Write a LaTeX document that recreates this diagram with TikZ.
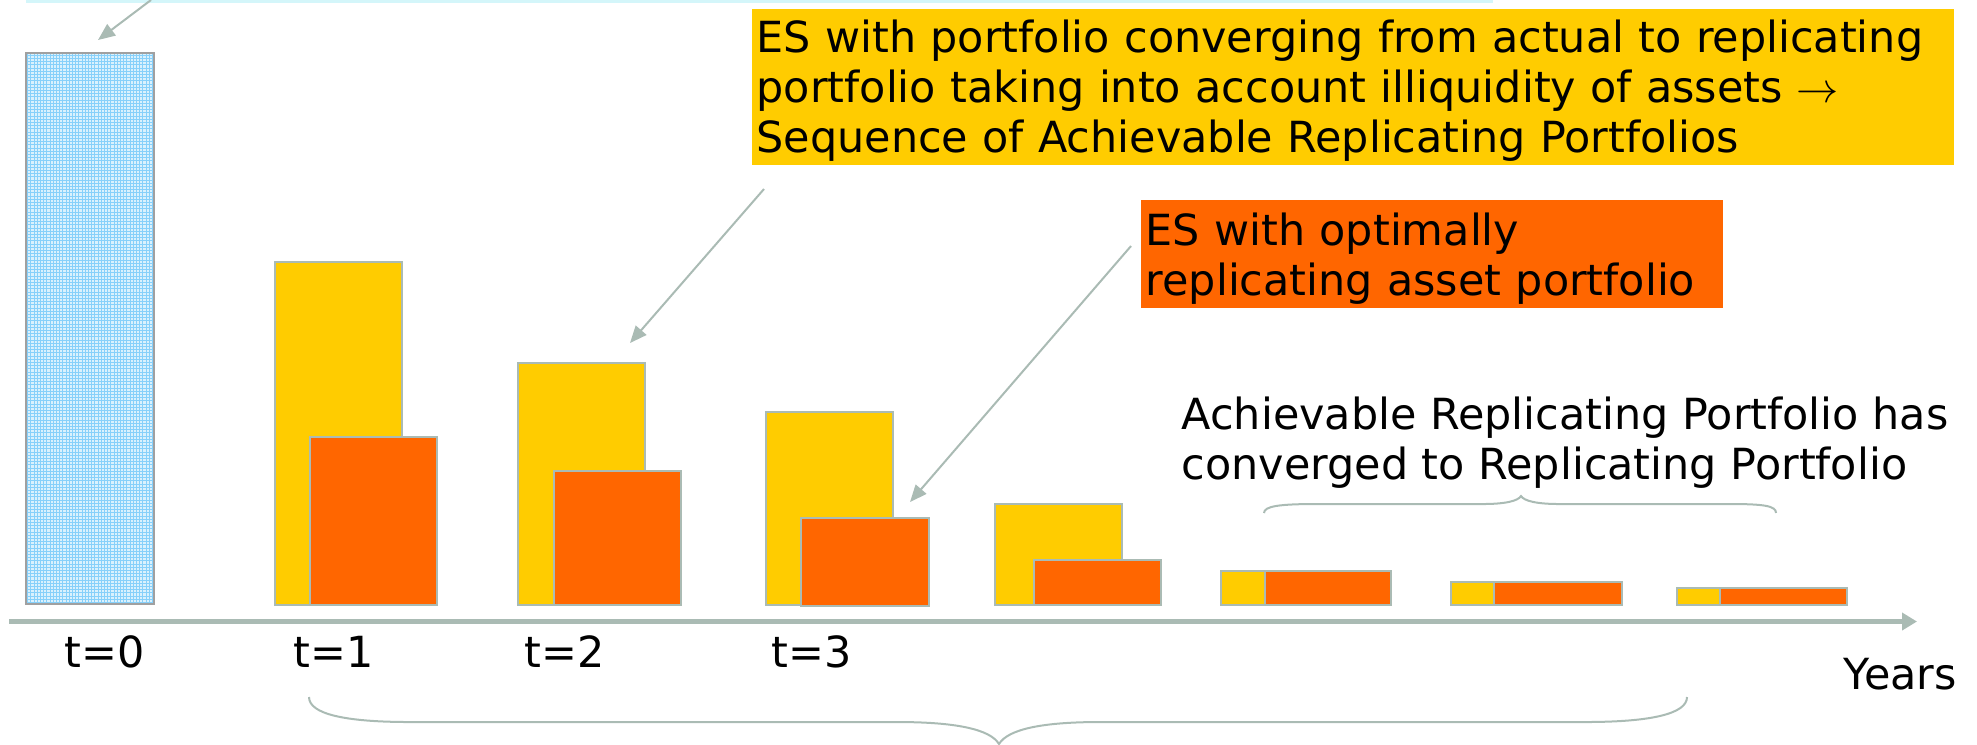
\documentclass[tikz,border=0pt]{standalone}
\usepackage{fontspec}
\setmainfont{DejaVu Sans}
\usetikzlibrary{arrows.meta}

\definecolor{barY}{RGB}{255,204,0}
\definecolor{barO}{RGB}{255,102,0}
\definecolor{edge}{RGB}{170,187,180}
\definecolor{gridblue}{RGB}{135,208,250}
\definecolor{paleblue}{RGB}{218,241,253}
\definecolor{barframe}{RGB}{160,160,160}
\definecolor{topline}{RGB}{212,246,250}

\tikzset{
  ybar/.style={fill=barY, draw=edge, line width=0.02cm},
  obar/.style={fill=barO, draw=edge, line width=0.02cm},
  pointer/.style={draw=edge, line width=0.02cm, -{Triangle[length=0.17cm,width=0.14cm]}},
  bracepath/.style={draw=edge, line width=0.02cm},
  lbl/.style={font=\fontsize{12.2}{14.2}\selectfont, inner sep=0pt},
  callout/.style={lbl, anchor=north west, align=left, inner xsep=0.05cm, inner ysep=0pt},
}

\begin{document}
\begin{tikzpicture}[x=0.01cm, y=-0.01cm]
\useasboundingbox (0,0) rectangle (1977,744);

% edge of the box above the initial bar
\fill[topline] (26,0) rectangle (1493,3);

% initial ES bar at t=0, light blue grid texture
\fill[paleblue] (26,53) rectangle (154,604);
\foreach \gx in {27.5,30.7,...,153} \draw[gridblue, line width=0.006cm] (\gx,54) -- (\gx,603);
\foreach \gy in {55,58.2,...,603} \draw[gridblue, line width=0.006cm] (27,\gy) -- (153,\gy);
\draw[barframe, line width=0.02cm] (26,53) rectangle (154,604);

% ES bars: achievable (yellow) and optimal (orange)
\draw[ybar] (275,262) rectangle (402,605);
\draw[obar] (310,437) rectangle (437,605);

\draw[ybar] (518,363) rectangle (645,605);
\draw[obar] (554,471) rectangle (681,605);

\draw[ybar] (766,412) rectangle (893,605);
\draw[obar] (801,518) rectangle (929,606);

\draw[ybar] (995,504) rectangle (1122,605);
\draw[obar] (1034,560) rectangle (1161,605);

\draw[ybar] (1221,571) rectangle (1265,605);
\draw[obar] (1265,571) rectangle (1391,605);

\draw[ybar] (1451,582) rectangle (1494,605);
\draw[obar] (1494,582) rectangle (1622,605);

\draw[ybar] (1677,588) rectangle (1720,605);
\draw[obar] (1720,588) rectangle (1847,605);

% time axis
\coordinate (axs) at (9,621.5);
\coordinate (axe) at (1917,621.5);
\draw[edge, line width=0.05cm, -{Triangle[length=0.15cm,width=0.17cm]}] (axs) -- (axe);

\node[lbl, anchor=base] (t0) at (105,667) {t=0};
\node[lbl, anchor=base] (t1) at (334,667) {t=1};
\node[lbl, anchor=base] (t2) at (565,667) {t=2};
\node[lbl, anchor=base] (t3) at (812,667) {t=3};
\node[lbl, anchor=base west] (yrs) at (1843,689) {Years};

% call-out boxes
\node[callout, fill=barY, minimum width=12.02cm, minimum height=1.56cm,
      text width=11.92cm] (seqbox) at (751,8)
  {\rule{0pt}{0.41cm}ES with portfolio converging from actual to replicating\\
   portfolio taking into account illiquidity of assets $\rightarrow$\\
   Sequence of Achievable Replicating Portfolios};

\node[callout, fill=barO, minimum width=5.82cm, minimum height=1.08cm,
      text width=5.72cm] (optbox) at (1140,199)
  {\rule{0pt}{0.43cm}ES with optimally\\replicating asset portfolio};

\node[callout, inner xsep=0pt] (convtxt) at (1181,396)
  {Achievable Replicating Portfolio has\\converged to Replicating Portfolio};

% pointers
\coordinate (p1s) at (151,0);
\coordinate (p1e) at (98,40);
\draw[pointer] (p1s) -- (p1e);

\coordinate (p2s) at (764,189);
\coordinate (p2e) at (630,343);
\draw[pointer] (p2s) -- (p2e);

\coordinate (p3s) at (1131,246);
\coordinate (p3e) at (910,502);
\draw[pointer] (p3s) -- (p3e);

% brace over the converged years
\draw[bracepath] (1264,513) .. controls (1264,506) and (1280,504) .. (1317,504)
  -- (1483,504) .. controls (1505,504) and (1518,501) .. (1521,496)
  .. controls (1524,501) and (1537,504) .. (1559,504)
  -- (1730,504) .. controls (1765,504) and (1776,506) .. (1776,513);

% brace under the converging years
\draw[bracepath] (309,697) .. controls (309,714) and (345,722) .. (410,722)
  -- (897,722) .. controls (955,722) and (990,729) .. (999,744)
  .. controls (1008,729) and (1043,722) .. (1100,722)
  -- (1585,722) .. controls (1650,722) and (1687,714) .. (1687,697);
\end{tikzpicture}
\end{document}
